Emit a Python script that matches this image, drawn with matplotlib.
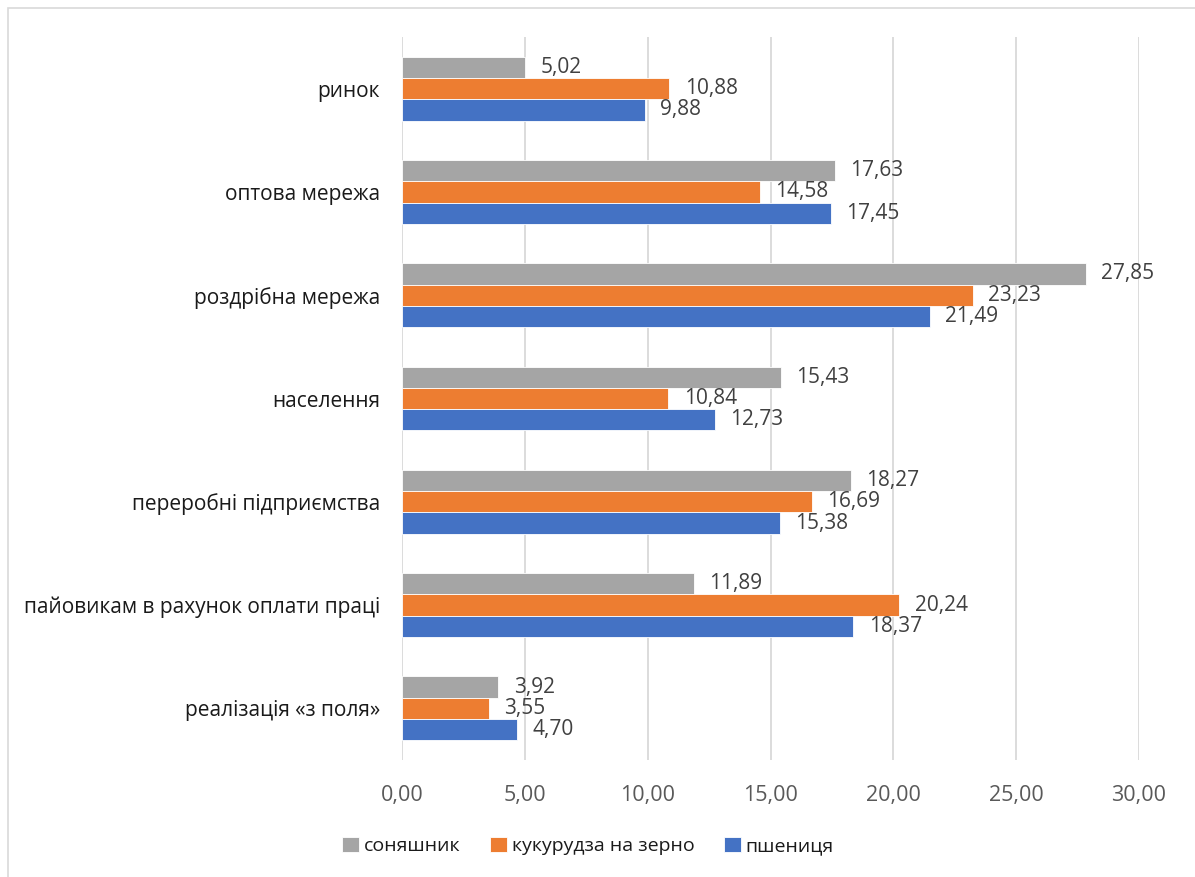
import numpy as np
import matplotlib.pyplot as plt
from matplotlib.patches import Rectangle

plt.rcParams['font.family'] = ['Open Sans', 'DejaVu Sans']

categories = ["реалізація «з поля»", "пайовикам в рахунок оплати праці",
              "переробні підприємства", "населення", "роздрібна мережа",
              "оптова мережа", "ринок"]
series_names = ["соняшник", "кукурудза на зерно", "пшениця"]
sunflower = [3.92, 11.89, 18.27, 15.43, 27.85, 17.63, 5.02]
corn = [3.55, 20.24, 16.69, 10.84, 23.23, 14.58, 10.88]
wheat = [4.70, 18.37, 15.38, 12.73, 21.49, 17.45, 9.88]
colors = ["#A5A5A5", "#ED7D31", "#4472C4"]

fig = plt.figure(figsize=(11.95, 8.77), dpi=100)
ax = fig.add_axes([402 / 1195, 1 - 760 / 877, (1139 - 402) / 1195, (760 - 37) / 877])

y = np.arange(len(categories))
h = 0.206
offsets = [h, 0, -h]
for vals, name, c, off in zip([sunflower, corn, wheat], series_names, colors, offsets):
    bars = ax.barh(y + off, vals, height=h, color=c, label=name,
                   edgecolor='white', linewidth=0.6, zorder=3)
    ax.bar_label(bars, labels=["{:.2f}".format(v).replace('.', ',') for v in vals],
                 padding=11, fontsize=15, color='#404040')

ax.set_xlim(0, 30)
ax.set_ylim(-0.5, len(categories) - 0.5)
ax.set_xticks(np.arange(0, 31, 5))
ax.set_xticklabels(["{:.2f}".format(v).replace('.', ',') for v in np.arange(0, 31, 5)])
ax.set_yticks(y)
ax.set_yticklabels(categories)
ax.tick_params(axis='x', length=0, pad=18, labelsize=15.5, labelcolor='#595959')
ax.tick_params(axis='y', length=0, pad=16, labelsize=15, labelcolor='#1A1A1A')
ax.grid(axis='x', color='#D9D9D9', linewidth=1.3, zorder=0)
for s in ax.spines.values():
    s.set_visible(False)

handles, labels = ax.get_legend_handles_labels()
fig.legend(handles, labels, loc='center', bbox_to_anchor=(588 / 1195, 1 - 846 / 877),
           ncol=3, frameon=False, fontsize=14, handlelength=0.85, handleheight=0.85,
           handletextpad=0.25, columnspacing=1.55, labelcolor='#1A1A1A')

fig.patches.append(Rectangle((8 / 1195, -0.01), 1.2, 1 - 8 / 877 + 0.01,
                             transform=fig.transFigure, fill=False,
                             edgecolor='#D9D9D9', linewidth=1.2))

fig.savefig("out.png", dpi=100)
